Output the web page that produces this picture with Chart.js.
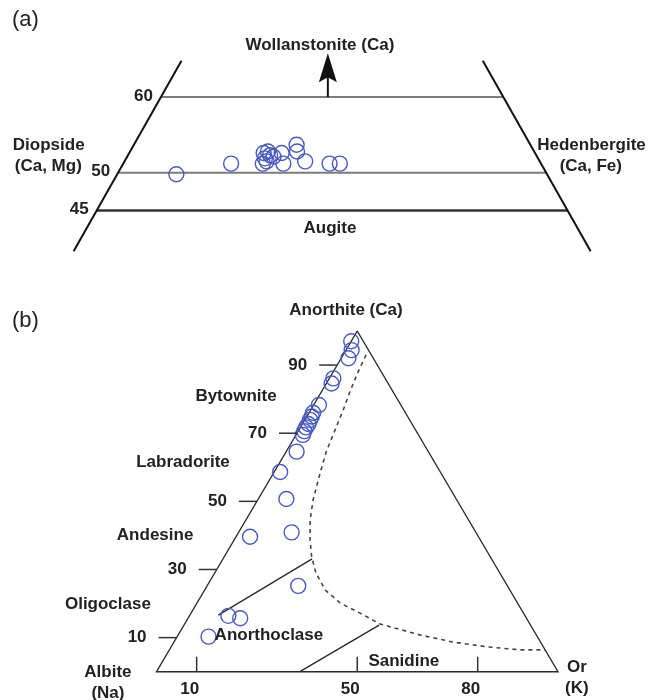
<!DOCTYPE html>
<html>
<head>
<meta charset="utf-8">
<script src="https://cdn.jsdelivr.net/npm/chart.js@4/dist/chart.umd.min.js"></script>
<style>
  html, body { margin: 0; padding: 0; background: #fff; }
  #wrap { position: relative; width: 648px; height: 700px; }
  canvas { position: absolute; left: 0; }
  #pyx { top: 0; }
  #fsp { top: 280px; }
</style>
</head>
<body>
<div id="wrap">
  <canvas id="pyx" width="648" height="280"></canvas>
  <canvas id="fsp" width="648" height="420"></canvas>
</div>
<script>
// ---------- (a) clinopyroxene, mol % (En = 100 - Wo - Fs) ----------
const pyxWo = [49.8, 51.2, 52.6, 51.9, 51.5, 51.2, 52.3, 52.1, 52.8, 52.6, 51.2, 53.7, 52.8, 51.5, 51.2, 51.2];
const pyxFs = [6.9, 12.6, 15.7, 16.2, 16.6, 16.3, 16.6, 17.1, 16.1, 17.8, 18.7, 19.0, 19.5, 21.1, 24.1, 25.3];
const pyxWoLines = [60, 50, 45];
const pyxWoLabels = ['60', '50', '45'];
const pyxSideTop = 64.8;      // Wo where the En-Wo / Fs-Wo sides are cut off
const pyxSideBottom = 39.6;
const pyxArrowWo = [60, 65.8];

// ---------- (b) feldspar, mol % (Ab = 100 - An - Or) ----------
const fspAn = [97.0, 94.4, 92.0, 86.1, 84.6, 78.3, 76.0, 74.9, 73.9, 72.7, 71.7, 70.6, 69.5,
               64.6, 58.6, 50.7, 40.9, 25.2, 39.6, 16.4, 15.7, 10.3];
const fspOr = [0.0, 1.4, 1.8, 1.0, 1.3, 1.3, 1.0, 1.2, 1.3, 1.5, 1.4, 1.5, 1.7,
               2.6, 1.5, 7.0, 13.2, 22.7, 3.5, 9.7, 13.0, 7.8];
// plagioclase / anorthoclase boundary
const anorthoclaseAn = [16.6, 33.1];
const anorthoclaseOr = [7.1, 22.2];
// anorthoclase / sanidine boundary
const sanidineAn = [0, 13.7];
const sanidineOr = [35.7, 48.6];
// limit of the one-feldspar field (dashed)
const solvusAn = [93.0, 88.0, 82.1, 76.8, 70.9, 64.5, 57.2, 50.4, 44.5, 38.7, 33.7, 29.0, 24.0,
                  20.2, 17.2, 14.0, 10.8, 8.7, 7.3, 6.4, 6.4];
const solvusOr = [5.7, 6.2, 7.1, 8.1, 9.0, 10.0, 11.9, 13.8, 16.0, 18.9, 21.8, 25.2, 30.0,
                  35.6, 42.1, 48.7, 60.2, 69.5, 78.7, 87.4, 93.6];
const anTicks = [10, 30, 50, 70, 90];
const orTicks = [10, 50, 80];

// ---------- helpers ----------
const FONT = '"Liberation Sans", Arial, Helvetica, sans-serif';
const INK = '#222';
const BLUE = '#4759c2';

// ternary (An, Or) -> plane: x along Ab-Or base, y = An
const fspXY = (an, or) => ({ x: or + an / 2, y: an });
// pyroxene (Wo, Fs) -> plane: x along En-Fs base, y = Wo
const pyxXY = (wo, fs) => ({ x: fs + wo / 2, y: wo });

const lineSet = (data, color, width, dash) => ({
  type: 'scatter', data, showLine: true, pointRadius: 0, borderColor: color,
  borderWidth: width, borderDash: dash || [], fill: false, clip: false, tension: 0
});
const pointSet = (data) => ({
  type: 'scatter', data, showLine: false, pointRadius: 7.5, pointBorderWidth: 1.4,
  pointBorderColor: BLUE, pointBackgroundColor: 'rgba(0,0,0,0)', clip: false
});

// text notes placed in data coordinates
const notesPlugin = {
  id: 'notes',
  afterDatasetsDraw(chart, args, opts) {
    const { ctx, scales: { x, y } } = chart;
    ctx.save();
    ctx.fillStyle = INK;
    ctx.textBaseline = 'middle';
    (opts.items || []).forEach(it => {
      ctx.font = it.font || `bold 17px ${FONT}`;
      ctx.textAlign = it.align || 'center';
      ctx.fillText(it.text, x.getPixelForValue(it.x), y.getPixelForValue(it.y));
    });
    ctx.restore();
  }
};

// ---------- (a) ----------
const pyxArrowX = 49.5;
const pyxPlugin = {
  id: 'pyxFrame',
  afterDatasetsDraw(chart) {
    const { ctx, scales: { x, y } } = chart;
    ctx.save();
    // Wo-line labels beside the Fs = 0 side
    ctx.fillStyle = INK;
    ctx.font = `bold 17px ${FONT}`;
    ctx.textAlign = 'right';
    ctx.textBaseline = 'middle';
    pyxWoLines.forEach((wo, i) => {
      const p = pyxXY(wo, 0);
      ctx.fillText(pyxWoLabels[i], x.getPixelForValue(p.x) - 8, y.getPixelForValue(wo) - 1);
    });
    // arrow towards Wollastonite
    const ax = x.getPixelForValue(pyxArrowX);
    const y0 = y.getPixelForValue(pyxArrowWo[0]);
    const y1 = y.getPixelForValue(pyxArrowWo[1]);
    ctx.strokeStyle = '#111';
    ctx.lineWidth = 2;
    ctx.beginPath(); ctx.moveTo(ax, y0); ctx.lineTo(ax, y1 + 22); ctx.stroke();
    ctx.fillStyle = '#111';
    ctx.beginPath();
    ctx.moveTo(ax, y1);
    ctx.lineTo(ax - 9, y1 + 29);
    ctx.lineTo(ax, y1 + 24);
    ctx.lineTo(ax + 9, y1 + 29);
    ctx.closePath();
    ctx.fill();
    ctx.restore();
  }
};

const pyxPoints = pyxWo.map((wo, i) => pyxXY(wo, pyxFs[i]));
const pyxSets = [pointSet(pyxPoints)];
// En-Wo side (Fs = 0) and Fs-Wo side (En = 0)
pyxSets.push(lineSet([pyxXY(pyxSideTop, 0), pyxXY(pyxSideBottom, 0)], '#111', 2));
pyxSets.push(lineSet([pyxXY(pyxSideTop, 100 - pyxSideTop), pyxXY(pyxSideBottom, 100 - pyxSideBottom)], '#111', 2));
pyxWoLines.forEach((wo, i) => {
  const last = i === pyxWoLines.length - 1;
  pyxSets.push(lineSet([pyxXY(wo, 0), pyxXY(wo, 100 - wo)], last ? '#333' : '#7c7c7c', last ? 2.6 : 2));
});

new Chart(document.getElementById('pyx'), {
  type: 'scatter',
  data: { datasets: pyxSets },
  options: {
    responsive: false, animation: false, events: [],
    layout: { padding: 0, autoPadding: false },
    scales: {
      x: { type: 'linear', display: false, min: 11.2, max: 86.9 },
      y: { type: 'linear', display: false, min: 35.8, max: 72.85 }
    },
    plugins: {
      legend: { display: false }, tooltip: { enabled: false },
      notes: { items: [
        { text: '(a)', x: 12.6, y: 70.2, align: 'left', font: `22px ${FONT}` },
        { text: 'Wollanstonite (Ca)', x: 48.57, y: 66.89 },
        { text: 'Diopside', x: 16.89, y: 53.66 },
        { text: '(Ca, Mg)', x: 16.84, y: 50.81 },
        { text: 'Hedenbergite', x: 80.3, y: 53.66 },
        { text: '(Ca, Fe)', x: 80.22, y: 50.81 },
        { text: 'Augite', x: 49.74, y: 42.67 }
      ] }
    }
  },
  plugins: [notesPlugin, pyxPlugin]
});

// ---------- (b) ----------
const fspPlugin = {
  id: 'fspTicks',
  afterDatasetsDraw(chart) {
    const { ctx, scales: { x, y } } = chart;
    ctx.save();
    ctx.strokeStyle = '#333';
    ctx.lineWidth = 1.5;
    ctx.fillStyle = INK;
    ctx.font = `bold 17px ${FONT}`;
    ctx.textBaseline = 'middle';
    // An ticks on the Ab-An side
    ctx.textAlign = 'right';
    anTicks.forEach(v => {
      const p = fspXY(v, 0);
      const ex = x.getPixelForValue(p.x), ey = y.getPixelForValue(p.y);
      ctx.beginPath(); ctx.moveTo(ex - 18, ey); ctx.lineTo(ex, ey); ctx.stroke();
      ctx.fillText(String(v), ex - 30, ey);
    });
    // Or ticks on the Ab-Or base
    ctx.textAlign = 'center';
    orTicks.forEach(v => {
      const p = fspXY(0, v);
      const ex = x.getPixelForValue(p.x), ey = y.getPixelForValue(p.y);
      ctx.beginPath(); ctx.moveTo(ex, ey); ctx.lineTo(ex, ey - 15); ctx.stroke();
      ctx.fillText(String(v), ex - 7, ey + 18);
    });
    ctx.restore();
  }
};

const fspPoints = fspAn.map((an, i) => fspXY(an, fspOr[i]));
const fspSets = [pointSet(fspPoints)];
fspSets.push(lineSet([fspXY(100, 0), fspXY(0, 0), fspXY(0, 100), fspXY(100, 0)], '#2a2a2a', 1.4));
fspSets.push(lineSet(anorthoclaseAn.map((an, i) => fspXY(an, anorthoclaseOr[i])), '#2a2a2a', 1.4));
fspSets.push(lineSet(sanidineAn.map((an, i) => fspXY(an, sanidineOr[i])), '#2a2a2a', 1.4));
fspSets.push(lineSet(solvusAn.map((an, i) => fspXY(an, solvusOr[i])), '#444', 1.6, [4, 4]));

new Chart(document.getElementById('fsp'), {
  type: 'scatter',
  data: { datasets: fspSets },
  options: {
    responsive: false, animation: false, events: [],
    layout: { padding: { left: 156.5, right: 90, top: 51, bottom: 28.3 }, autoPadding: false },
    scales: {
      x: { type: 'linear', display: false, min: 0, max: 100 },
      y: { type: 'linear', display: false, min: 0, max: 100 }
    },
    plugins: {
      legend: { display: false }, tooltip: { enabled: false },
      notes: { items: [
        { text: '(b)', x: -35.99, y: 102.9, align: 'left', font: `22px ${FONT}` },
        { text: 'Anorthite (Ca)', x: 47.2, y: 106.2 },
        { text: 'Bytownite', x: 19.8, y: 80.9 },
        { text: 'Labradorite', x: 6.6, y: 61.5 },
        { text: 'Andesine', x: -0.35, y: 40.1 },
        { text: 'Oligoclase', x: -12.1, y: 19.9 },
        { text: 'Anorthoclase', x: 28.0, y: 10.8 },
        { text: 'Sanidine', x: 61.6, y: 3.1 },
        { text: 'Albite', x: -12.1, y: -0.1 },
        { text: '(Na)', x: -12.1, y: -6.25 },
        { text: 'Or', x: 104.7, y: 1.4 },
        { text: '(K)', x: 104.7, y: -4.8 }
      ] }
    }
  },
  plugins: [notesPlugin, fspPlugin]
});
</script>
</body>
</html>
